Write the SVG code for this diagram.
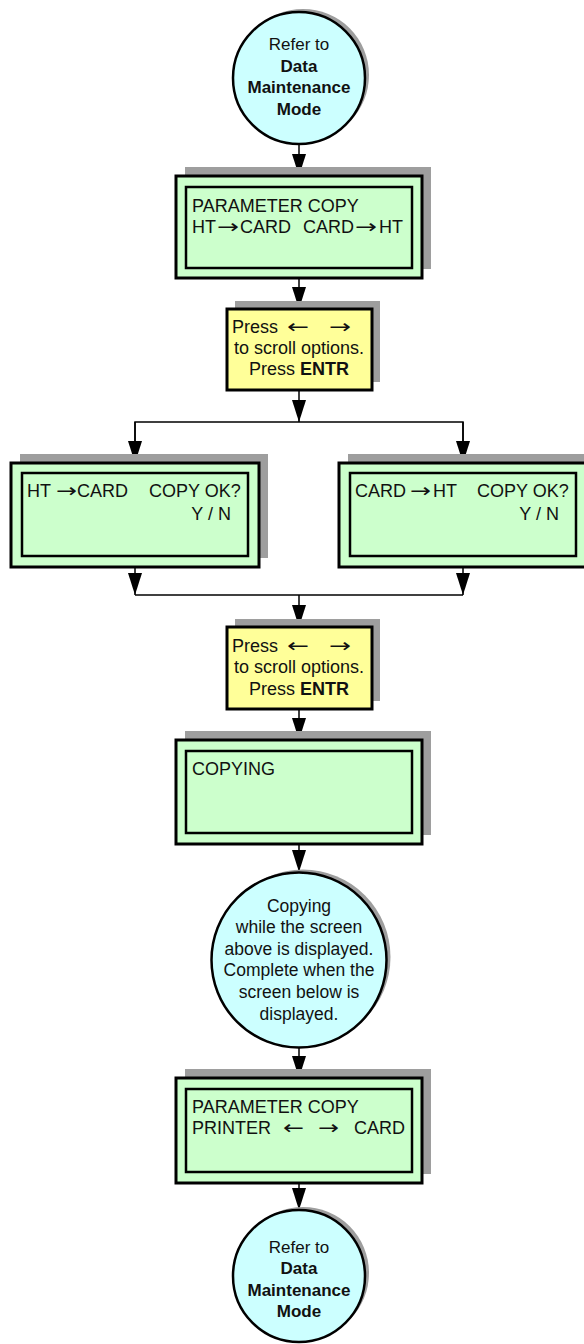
<svg xmlns="http://www.w3.org/2000/svg" width="584" height="1344" viewBox="0 0 584 1344">
<style>
.t{font-family:"Liberation Sans",Arial,sans-serif;fill:#111;}
.bx{font-size:18px;}
.ct{font-size:17px;text-anchor:middle;}
.c2{font-size:17.5px;text-anchor:middle;}
.yt{font-size:18px;}
.b{font-weight:bold;}
.ar{font-family:"DejaVu Sans",sans-serif;font-size:19px;fill:#111;}
.sh{fill:#9e9e9e;}
.outer{fill:#ccffcc;stroke:#000;stroke-width:3;}
.inner{fill:#ccffcc;stroke:#000;stroke-width:2.5;}
.yel{fill:#ffff99;stroke:#000;stroke-width:3;}
.cir{fill:#ccffff;stroke:#000;stroke-width:2.5;}
.ln{fill:none;stroke:#000;stroke-width:1.5;}
</style>
<defs>
<marker id="ah" markerUnits="userSpaceOnUse" markerWidth="22" markerHeight="14" refX="22" refY="7" orient="auto">
<path d="M0,0 L22,7 L0,14 z" fill="#000"/>
</marker>
</defs>
<g id="connectors">
<line class="ln" x1="299" y1="144" x2="299" y2="176" marker-end="url(#ah)"/>
<line class="ln" x1="299" y1="278" x2="299" y2="309" marker-end="url(#ah)"/>
<line class="ln" x1="299" y1="390" x2="299" y2="422" marker-end="url(#ah)"/>
<polyline class="ln" points="135,463 135,422 463,422 463,463"/>
<line class="ln" x1="135" y1="422" x2="135" y2="463" marker-end="url(#ah)"/>
<line class="ln" x1="463" y1="422" x2="463" y2="463" marker-end="url(#ah)"/>
<line class="ln" x1="135" y1="567" x2="135" y2="595" marker-end="url(#ah)"/>
<line class="ln" x1="463" y1="567" x2="463" y2="595" marker-end="url(#ah)"/>
<line class="ln" x1="135" y1="595" x2="463" y2="595"/>
<line class="ln" x1="299" y1="595" x2="299" y2="627" marker-end="url(#ah)"/>
<line class="ln" x1="299" y1="709" x2="299" y2="740" marker-end="url(#ah)"/>
<line class="ln" x1="299" y1="844" x2="299" y2="872" marker-end="url(#ah)"/>
<line class="ln" x1="299" y1="1048" x2="299" y2="1078" marker-end="url(#ah)"/>
<line class="ln" x1="299" y1="1183" x2="299" y2="1210" marker-end="url(#ah)"/>
</g>
<g id="start">
<circle class="sh" cx="303" cy="75" r="66"/>
<circle class="cir" cx="299" cy="78" r="66"/>
<text class="t ct" x="299" y="50">Refer to</text>
<text class="t ct b" x="299" y="72">Data</text>
<text class="t ct b" x="299" y="93">Maintenance</text>
<text class="t ct b" x="299" y="115">Mode</text>
</g>
<g id="screen1">
<rect class="sh" x="185" y="167" width="246" height="102"/>
<rect class="outer" x="176" y="176" width="246" height="102"/>
<rect class="inner" x="186" y="187" width="226" height="81"/>
<text class="t bx" x="192" y="212">PARAMETER COPY</text>
<text class="t bx" x="192" y="233">HT</text>
<text class="ar" x="217" y="233" textLength="22" lengthAdjust="spacingAndGlyphs">→</text>
<text class="t bx" x="240" y="233">CARD</text>
<text class="t bx" x="303" y="233">CARD</text>
<text class="ar" x="355" y="233" textLength="22" lengthAdjust="spacingAndGlyphs">→</text>
<text class="t bx" x="379" y="233">HT</text>
</g>
<g id="press1">
<rect class="sh" x="235" y="301" width="145" height="81"/>
<rect class="yel" x="227" y="309" width="145" height="81"/>
<text class="t yt" x="232" y="333">Press</text>
<text class="ar" x="287" y="333" textLength="22" lengthAdjust="spacingAndGlyphs">←</text>
<text class="ar" x="329" y="333" textLength="22" lengthAdjust="spacingAndGlyphs">→</text>
<text class="t yt" x="299" y="354" text-anchor="middle">to scroll options.</text>
<text class="t yt" x="299" y="375" text-anchor="middle">Press <tspan class="b">ENTR</tspan></text>
</g>
<g id="ht2card">
<rect class="sh" x="20" y="454" width="248" height="104"/>
<rect class="outer" x="11" y="463" width="248" height="104"/>
<rect class="inner" x="22" y="473" width="226" height="83"/>
<text class="t bx" x="27" y="497">HT</text>
<text class="ar" x="56" y="497" textLength="21" lengthAdjust="spacingAndGlyphs">→</text>
<text class="t bx" x="77" y="497">CARD</text>
<text class="t bx" x="149" y="497">COPY OK?</text>
<text class="t bx" x="231" y="520" text-anchor="end">Y / N</text>
</g>
<g id="card2ht">
<rect class="sh" x="348" y="454" width="248" height="104"/>
<rect class="outer" x="339" y="463" width="248" height="104"/>
<rect class="inner" x="350" y="473" width="226" height="83"/>
<text class="t bx" x="355" y="497">CARD</text>
<text class="ar" x="410" y="497" textLength="21" lengthAdjust="spacingAndGlyphs">→</text>
<text class="t bx" x="433" y="497">HT</text>
<text class="t bx" x="477" y="497">COPY OK?</text>
<text class="t bx" x="559" y="520" text-anchor="end">Y / N</text>
</g>
<g id="press2">
<rect class="sh" x="235" y="619" width="145" height="82"/>
<rect class="yel" x="227" y="627" width="145" height="82"/>
<text class="t yt" x="232" y="652">Press</text>
<text class="ar" x="287" y="652" textLength="22" lengthAdjust="spacingAndGlyphs">←</text>
<text class="ar" x="329" y="652" textLength="22" lengthAdjust="spacingAndGlyphs">→</text>
<text class="t yt" x="299" y="673" text-anchor="middle">to scroll options.</text>
<text class="t yt" x="299" y="695" text-anchor="middle">Press <tspan class="b">ENTR</tspan></text>
</g>
<g id="copying">
<rect class="sh" x="185" y="731" width="246" height="104"/>
<rect class="outer" x="176" y="740" width="246" height="104"/>
<rect class="inner" x="186" y="751" width="226" height="82"/>
<text class="t bx" x="192" y="775">COPYING</text>
</g>
<g id="note">
<circle class="sh" cx="303" cy="957" r="87.5"/>
<circle class="cir" cx="299" cy="960" r="87.5"/>
<text class="t c2" x="299" y="912">Copying</text>
<text class="t c2" x="299" y="933">while the screen</text>
<text class="t c2" x="299" y="955">above is displayed.</text>
<text class="t c2" x="299" y="976">Complete when the</text>
<text class="t c2" x="299" y="998">screen below is</text>
<text class="t c2" x="299" y="1020">displayed.</text>
</g>
<g id="screen3">
<rect class="sh" x="185" y="1069" width="246" height="105"/>
<rect class="outer" x="176" y="1078" width="246" height="105"/>
<rect class="inner" x="186" y="1089" width="226" height="83"/>
<text class="t bx" x="192" y="1113">PARAMETER COPY</text>
<text class="t bx" x="192" y="1134">PRINTER</text>
<text class="ar" x="283" y="1134" textLength="21" lengthAdjust="spacingAndGlyphs">←</text>
<text class="ar" x="318" y="1134" textLength="21" lengthAdjust="spacingAndGlyphs">→</text>
<text class="t bx" x="354" y="1134">CARD</text>
</g>
<g id="end">
<circle class="sh" cx="303" cy="1273" r="66"/>
<circle class="cir" cx="299" cy="1276" r="66"/>
<text class="t ct" x="299" y="1253">Refer to</text>
<text class="t ct b" x="299" y="1274">Data</text>
<text class="t ct b" x="299" y="1296">Maintenance</text>
<text class="t ct b" x="299" y="1317">Mode</text>
</g>
</svg>
